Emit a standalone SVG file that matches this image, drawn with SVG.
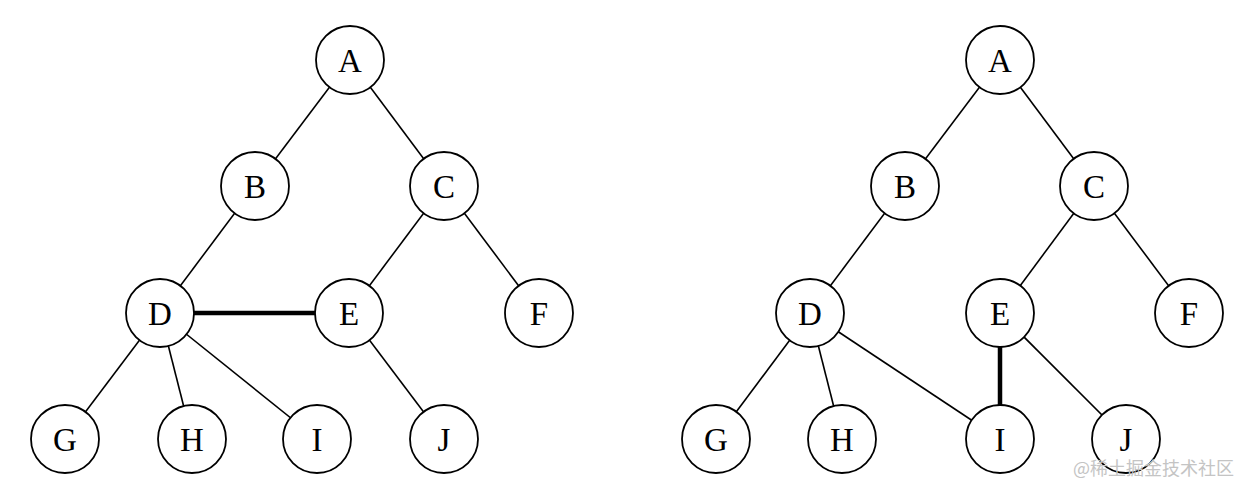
<svg xmlns="http://www.w3.org/2000/svg" width="1250" height="496" viewBox="0 0 1250 496">
<style>
.e{stroke:#000;stroke-width:1.6;fill:none}
.t{stroke:#000;stroke-width:4.5;fill:none}
.n circle{fill:#fff;stroke:#000;stroke-width:1.8}
.n text{font-family:"Liberation Serif","Times New Roman",serif;font-size:33px;text-anchor:middle;fill:#000}
.wm{font-family:"Noto Sans CJK SC","Noto Sans",sans-serif;font-size:18px;fill:#c4c4c4}
</style>
<rect width="1250" height="496" fill="#fff"/>
<g id="connectors">
<line class="e" x1="350" y1="60" x2="255" y2="186"/>
<line class="e" x1="350" y1="60" x2="444" y2="186"/>
<line class="e" x1="255" y1="186" x2="160" y2="313"/>
<line class="e" x1="444" y1="186" x2="349" y2="313"/>
<line class="e" x1="444" y1="186" x2="539" y2="313"/>
<line class="e" x1="160" y1="313" x2="65" y2="439"/>
<line class="e" x1="160" y1="313" x2="192" y2="439"/>
<line class="e" x1="160" y1="313" x2="317" y2="439"/>
<line class="e" x1="349" y1="313" x2="444" y2="439"/>
<line class="t" x1="160" y1="313" x2="349" y2="313"/>
<line class="e" x1="1000" y1="60" x2="905" y2="186"/>
<line class="e" x1="1000" y1="60" x2="1094" y2="186"/>
<line class="e" x1="905" y1="186" x2="810" y2="313"/>
<line class="e" x1="1094" y1="186" x2="1000" y2="313"/>
<line class="e" x1="1094" y1="186" x2="1189" y2="313"/>
<line class="e" x1="810" y1="313" x2="716" y2="439"/>
<line class="e" x1="810" y1="313" x2="842" y2="439"/>
<line class="e" x1="810" y1="313" x2="1000" y2="439"/>
<line class="e" x1="1000" y1="313" x2="1126" y2="439"/>
<line class="t" x1="1000" y1="313" x2="1000" y2="439"/>
</g>
<g id="L_A" class="n"><circle cx="350" cy="60" r="34"/><text x="350" y="72">A</text></g>
<g id="L_B" class="n"><circle cx="255" cy="186" r="34"/><text x="255" y="198">B</text></g>
<g id="L_C" class="n"><circle cx="444" cy="186" r="34"/><text x="444" y="198">C</text></g>
<g id="L_D" class="n"><circle cx="160" cy="313" r="34"/><text x="160" y="325">D</text></g>
<g id="L_E" class="n"><circle cx="349" cy="313" r="34"/><text x="349" y="325">E</text></g>
<g id="L_F" class="n"><circle cx="539" cy="313" r="34"/><text x="539" y="325">F</text></g>
<g id="L_G" class="n"><circle cx="65" cy="439" r="34"/><text x="65" y="451">G</text></g>
<g id="L_H" class="n"><circle cx="192" cy="439" r="34"/><text x="192" y="451">H</text></g>
<g id="L_I" class="n"><circle cx="317" cy="439" r="34"/><text x="317" y="451">I</text></g>
<g id="L_J" class="n"><circle cx="444" cy="439" r="34"/><text x="444" y="451">J</text></g>
<g id="R_A" class="n"><circle cx="1000" cy="60" r="34"/><text x="1000" y="72">A</text></g>
<g id="R_B" class="n"><circle cx="905" cy="186" r="34"/><text x="905" y="198">B</text></g>
<g id="R_C" class="n"><circle cx="1094" cy="186" r="34"/><text x="1094" y="198">C</text></g>
<g id="R_D" class="n"><circle cx="810" cy="313" r="34"/><text x="810" y="325">D</text></g>
<g id="R_E" class="n"><circle cx="1000" cy="313" r="34"/><text x="1000" y="325">E</text></g>
<g id="R_F" class="n"><circle cx="1189" cy="313" r="34"/><text x="1189" y="325">F</text></g>
<g id="R_G" class="n"><circle cx="716" cy="439" r="34"/><text x="716" y="451">G</text></g>
<g id="R_H" class="n"><circle cx="842" cy="439" r="34"/><text x="842" y="451">H</text></g>
<g id="R_I" class="n"><circle cx="1000" cy="439" r="34"/><text x="1000" y="451">I</text></g>
<g id="R_J" class="n"><circle cx="1126" cy="439" r="34"/><text x="1126" y="451">J</text></g>
<text class="wm" x="1073" y="475">@稀土掘金技术社区</text>
</svg>
